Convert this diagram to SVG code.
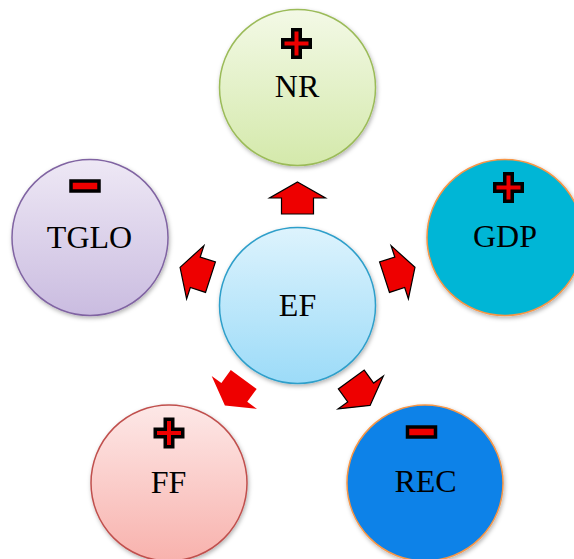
<svg xmlns="http://www.w3.org/2000/svg" width="574" height="559" viewBox="0 0 574 559">
<defs>
<linearGradient id="gNR" x1="0" y1="0" x2="0" y2="1"><stop offset="0" stop-color="#f3f9e6"/><stop offset="1" stop-color="#d4e9ab"/></linearGradient>
<linearGradient id="gTG" x1="0" y1="0" x2="0" y2="1"><stop offset="0" stop-color="#eee8f5"/><stop offset="1" stop-color="#cabce0"/></linearGradient>
<linearGradient id="gEF" x1="0" y1="0" x2="0" y2="1"><stop offset="0" stop-color="#ddf3fd"/><stop offset="1" stop-color="#9cdbf8"/></linearGradient>
<linearGradient id="gFF" x1="0" y1="0" x2="0" y2="1"><stop offset="0" stop-color="#fde8e7"/><stop offset="1" stop-color="#f8b2ad"/></linearGradient>
<filter id="sh" x="-20%" y="-20%" width="140%" height="140%"><feDropShadow dx="1" dy="2" stdDeviation="2" flood-color="#000" flood-opacity="0.3"/></filter>
<path id="plus" d="M-3.75,-13.75 H3.75 V-3.75 H13.75 V3.75 H3.75 V13.75 H-3.75 V3.75 H-13.75 V-3.75 H-3.75 Z"/>
<path id="arr" d="M0,-123.5 L28,-107.5 L16,-107.5 L16,-91.5 L-16,-91.5 L-16,-107.5 L-28,-107.5 Z"/>
</defs>
<style>
.lbl{font-family:"Liberation Serif","Times New Roman",serif;font-size:32px;fill:#000;text-anchor:middle}
.sign{fill:#ee0000;stroke:#000;stroke-width:3.5;stroke-linejoin:miter}
.ar{fill:#ee0000;stroke:#000;stroke-width:1.2;stroke-linejoin:miter}
.arn{fill:#ee0000;stroke:none}
circle{filter:url(#sh)}
</style>
<rect width="574" height="559" fill="#ffffff"/>
<g id="connectors" transform="translate(297.5,305.5)">
<use href="#arr" class="ar"/>
<use href="#arr" class="ar" transform="rotate(72)"/>
<use href="#arr" class="ar" transform="rotate(144)"/>
<use href="#arr" class="arn" transform="rotate(216)"/>
<use href="#arr" class="ar" transform="rotate(288)"/>
</g>
<g id="NR">
<circle cx="297.5" cy="87.5" r="78" fill="url(#gNR)" stroke="#9bbb59" stroke-width="1.5"/>
<use href="#plus" class="sign" x="296.5" y="43.5"/>
<text class="lbl" x="297" y="97">NR</text>
</g>
<g id="TGLO">
<circle cx="90" cy="237.5" r="78" fill="url(#gTG)" stroke="#8064a2" stroke-width="1.5"/>
<rect class="sign" x="71" y="181" width="28" height="10"/>
<text class="lbl" x="89.5" y="248">TGLO</text>
</g>
<g id="GDP">
<circle cx="505" cy="237.5" r="78" fill="#00b6d6" stroke="#f79646" stroke-width="1.5"/>
<use href="#plus" class="sign" x="508.5" y="187.5"/>
<text class="lbl" x="505" y="247">GDP</text>
</g>
<g id="EF">
<circle cx="297.5" cy="305.5" r="78" fill="url(#gEF)" stroke="#2f9fca" stroke-width="1.5"/>
<text class="lbl" x="297.5" y="316">EF</text>
</g>
<g id="FF">
<circle cx="169" cy="483" r="78" fill="url(#gFF)" stroke="#c0504d" stroke-width="1.5"/>
<use href="#plus" class="sign" x="169" y="433"/>
<text class="lbl" x="168.5" y="493">FF</text>
</g>
<g id="REC">
<circle cx="425" cy="483" r="78" fill="#0b82e8" stroke="#f79646" stroke-width="1.5"/>
<rect class="sign" x="407.5" y="427" width="28" height="10"/>
<text class="lbl" x="425.5" y="492">REC</text>
</g>
</svg>
